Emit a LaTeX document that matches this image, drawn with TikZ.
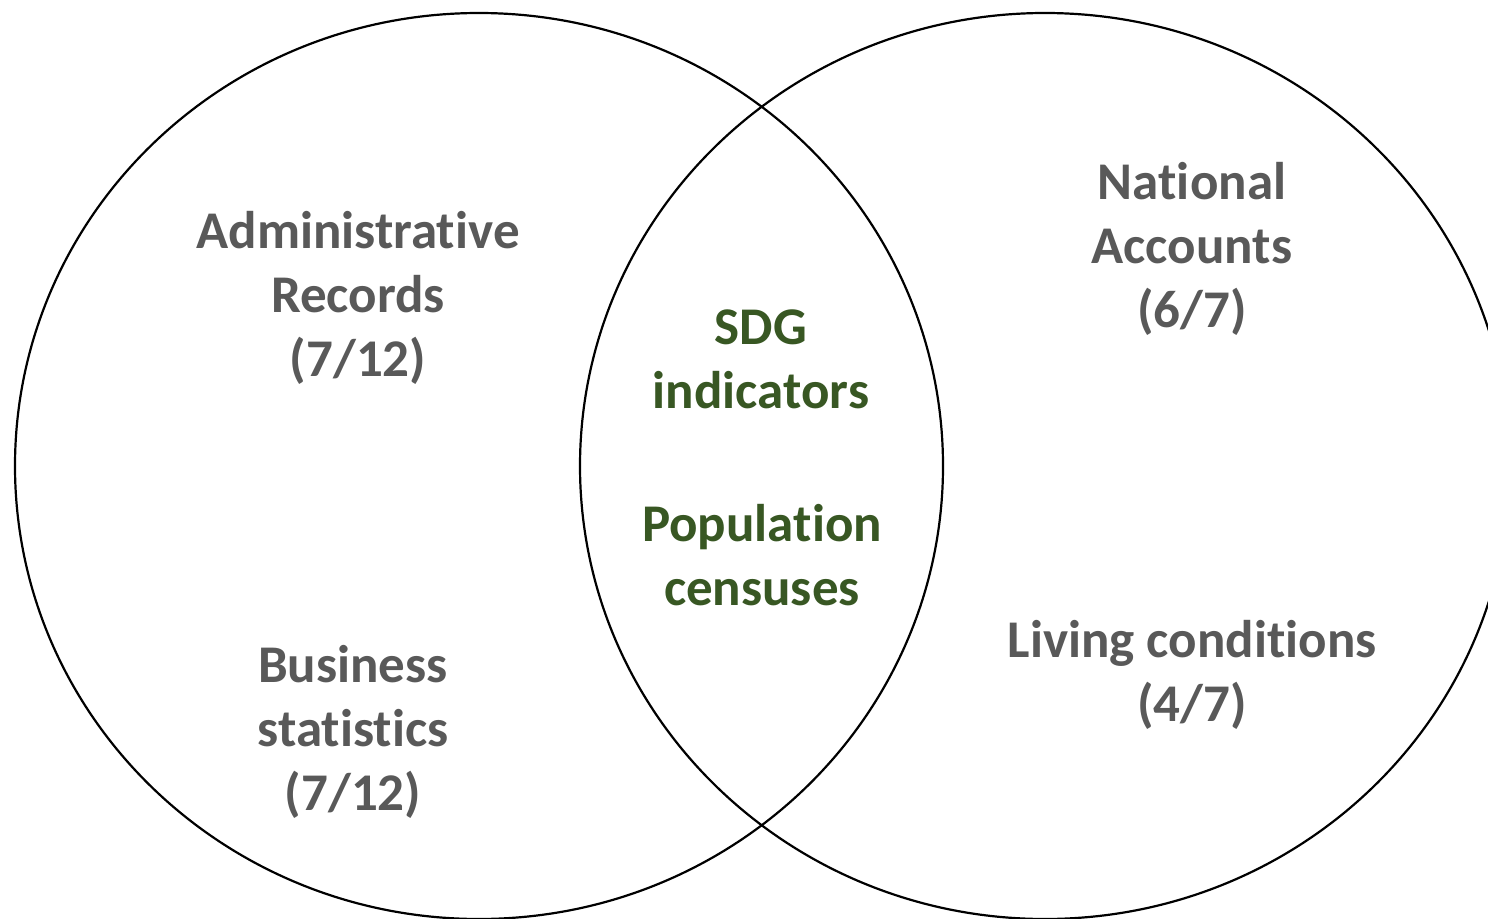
\documentclass[tikz,border=0pt]{standalone}
\usepackage{fontspec}
\setmainfont{Carlito}[Ligatures=NoCommon]
\definecolor{labelgray}{HTML}{595959}
\definecolor{labelgreen}{HTML}{385723}
\tikzset{
  setlabel/.style={align=center, inner sep=0pt, font=\bfseries\fontsize{53}{64}\selectfont, text=labelgray},
  corelabel/.style={setlabel, text=labelgreen},
  setring/.style={draw=black, line width=2.2pt}
}
\begin{document}
\begin{tikzpicture}[x=1pt,y=-1pt]
\useasboundingbox (0,0) rectangle (1488,918);
\clip (0,0) rectangle (1488,918);
\draw[setring] (479,466) ellipse [x radius=464, y radius=453];
\draw[setring] (1045,466) ellipse [x radius=465, y radius=453];
\node[setlabel] (adm) at (358,298) {Administrative\\Records\\(7/12)};
\node[setlabel] (bus) at (353,732) {Business\\statistics\\(7/12)};
\node[corelabel] (sdg) at (761,359) {SDG\\indicators};
\node[corelabel] (pop) at (762,555) {Population\\censuses};
\node[setlabel] (nat) at (1192,249) {National\\Accounts\\(6/7)};
\node[setlabel] (liv) at (1192,675) {Living conditions\\(4/7)};
\end{tikzpicture}
\end{document}
